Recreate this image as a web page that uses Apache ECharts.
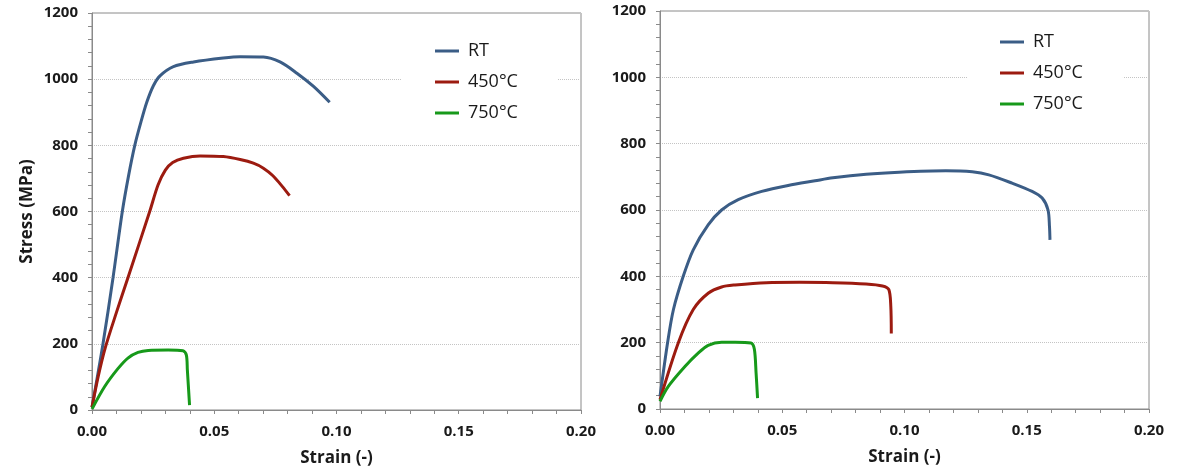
<!DOCTYPE html>
<html>
<head>
<meta charset="utf-8">
<script src="https://cdn.jsdelivr.net/npm/echarts@6/dist/echarts.min.js"></script>
<style>
  html,body{margin:0;padding:0;background:#fff;}
  #chart{width:1182px;height:474px;}
</style>
</head>
<body>
<div id="chart"></div>
<script>
// legend / series names
const names = ['RT', '450°C', '750°C']
const colors = ['#3b5d86', '#9c1b10', '#17991a']

// left panel: [strain, stress MPa]
const leftRT = [[0,8],[0.0045,200],[0.0086,400],[0.0124,600],[0.0150,710],[0.0175,800],[0.0200,870],
  [0.0224,930],[0.0251,980],[0.0278,1010],[0.0333,1038],[0.0415,1052],[0.0537,1064],[0.0606,1068],
  [0.0701,1067],[0.0769,1052],[0.0838,1018],[0.0906,978],[0.0972,930]]
const left450 = [[0,8],[0.0025,100],[0.0055,190],[0.0100,295],[0.0147,400],[0.0236,600],[0.0270,680],
  [0.0300,725],[0.0330,748],[0.0374,761],[0.0442,768],[0.0537,766],[0.0606,757],[0.0660,746],
  [0.0701,731],[0.0740,708],[0.0778,676],[0.0808,648]]
const left750 = [[0,3],[0.0052,71],[0.0106,125],[0.0147,157],[0.0188,174],[0.0230,180],[0.0311,181],
  [0.0372,179],[0.0386,166],[0.0390,121],[0.0399,15]]

// right panel
const rightRT = [[0,38],[0.0031,200],[0.0055,300],[0.0095,400],[0.0136,480],[0.0197,555],[0.0252,600],
  [0.0320,631],[0.0416,656],[0.0524,674],[0.0634,688],[0.0707,697],[0.0843,708],[0.0978,714],
  [0.1169,718],[0.1277,715],[0.1345,706],[0.1440,681],[0.1522,656],[0.1563,636],[0.1587,600],
  [0.1593,550],[0.1595,510]]
const right450 = [[0,28],[0.0075,200],[0.0136,300],[0.0197,349],[0.0252,368],[0.0307,374],[0.0435,381],
  [0.0571,382],[0.0707,381],[0.0843,377],[0.0910,371],[0.0936,360],[0.0944,309],[0.0946,228]]
const right750 = [[0,23],[0.0034,68],[0.0102,128],[0.0157,169],[0.0197,192],[0.0252,201],[0.0307,201],
  [0.0372,199],[0.0386,180],[0.0393,108],[0.0399,33]]

const xTicks = {min:0, max:0.2, interval:0.05}
const yTicks = {min:0, max:1200, interval:200}

const chart = echarts.init(document.getElementById('chart'))

function xAxisOf(grid){
  return {
    type:'value', gridIndex:grid, min:xTicks.min, max:xTicks.max, interval:xTicks.interval,
    name:'Strain (-)', nameLocation:'middle', nameGap:40,
    nameTextStyle:{fontFamily:'Open Sans', fontWeight:'bold', fontSize:17, color:'#1a1a1a'},
    axisLine:{lineStyle:{color:'#8a8a8a', width:1}},
    axisTick:{show:true, length:4, lineStyle:{color:'#8a8a8a'}},
    minorTick:{show:true, splitNumber:5, length:4, lineStyle:{color:'#8a8a8a'}},
    splitLine:{show:false},
    axisLabel:{margin:14, fontFamily:'Open Sans', fontWeight:'bold', fontSize:15, color:'#1a1a1a',
      formatter:v=>v.toFixed(2)}
  }
}
function yAxisOf(grid, withName){
  return {
    type:'value', gridIndex:grid, min:yTicks.min, max:yTicks.max, interval:yTicks.interval,
    name: withName ? 'Stress (MPa)' : '', nameLocation:'middle', nameGap:56,
    nameTextStyle:{fontFamily:'Open Sans', fontWeight:'bold', fontSize:17, color:'#1a1a1a'},
    axisLine:{show:true, lineStyle:{color:'#8a8a8a', width:1}},
    axisTick:{show:true, length:4, lineStyle:{color:'#8a8a8a'}},
    minorTick:{show:true, splitNumber:5, length:4, lineStyle:{color:'#8a8a8a'}},
    splitLine:{show:true, lineStyle:{color:'#c4c4c4', type:'dotted', width:1}},
    axisLabel:{margin:14, fontFamily:'Open Sans', fontWeight:'bold', fontSize:15, color:'#1a1a1a',
      formatter:v=>String(v)}
  }
}
function legendOf(left, top){
  return {
    orient:'vertical', left:left, top:top, data:names,
    backgroundColor:'#fff', padding:[10,40,10,33],
    icon:'rect', itemWidth:24, itemHeight:3, itemGap:11,
    textStyle:{fontFamily:'Open Sans', fontSize:18, color:'#1a1a1a', lineHeight:20, padding:[0,0,0,4]}
  }
}
function lineOf(name, idx, data){
  return {
    name:name, type:'line', xAxisIndex:idx, yAxisIndex:idx, data:data,
    showSymbol:false, smooth:0.3, color:colors[names.indexOf(name)],
    lineStyle:{width:3}, emphasis:{disabled:true}
  }
}

let option = {
  animation:false,
  grid:[
    {left:92, right:601, top:13, bottom:64, show:true, borderColor:'#8a8a8a', borderWidth:1},
    {left:660, right:33, top:11, bottom:65, show:true, borderColor:'#8a8a8a', borderWidth:1}
  ],
  xAxis:[xAxisOf(0), xAxisOf(1)],
  yAxis:[yAxisOf(0,true), yAxisOf(1,false)],
  legend:[legendOf(402,31), legendOf(967,22)],
  series:[
    lineOf('RT',0,leftRT), lineOf('450°C',0,left450), lineOf('750°C',0,left750),
    lineOf('RT',1,rightRT), lineOf('450°C',1,right450), lineOf('750°C',1,right750)
  ]
}
chart.setOption(option)
</script>
</body>
</html>
